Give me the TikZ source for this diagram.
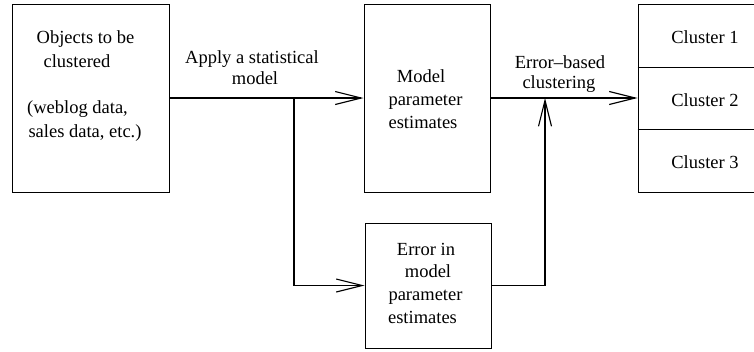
\documentclass[tikz,border=0pt]{standalone}
\usepackage{fontspec}
\setmainfont{Liberation Serif}
\usetikzlibrary{arrows.meta}
\begin{document}
\begin{tikzpicture}[x=1pt,y=-1pt,
  box/.style={draw, line width=1pt, inner sep=0pt},
  conn/.style={line width=1.5pt},
  arr/.style={conn, -{Straight Barb[length=26pt,width=13pt,line width=1.1pt]}},
  txt/.style={font=\fontsize{18.5}{22}\selectfont, inner sep=0pt, anchor=base}]
\useasboundingbox (0,0) rectangle (754,351);
% boxes
\node[box, minimum width=157pt, minimum height=188pt] (obj) at (90.5,98) {};
\node[box, minimum width=126pt, minimum height=188pt] (model) at (427,98) {};
\node[box, minimum width=126pt, minimum height=125pt] (err) at (428,285.5) {};
\node[box, minimum width=124pt, minimum height=188pt] (clus) at (700,98) {};
\draw[line width=1pt] (clus.west |- 0,67) -- (clus.east |- 0,67);
\draw[line width=1pt] (clus.west |- 0,129) -- (clus.east |- 0,129);
% texts in object box
\node[txt] (o1) at (85.5,43) {Objects to be};
\node[txt] (o2) at (77,67) {clustered};
\node[txt] (o3) at (77.5,113) {(weblog data,};
\node[txt] (o4) at (85,137) {sales data, etc.)};
% model box
\node[txt] (m1) at (421,82) {Model};
\node[txt] (m2) at (425.5,105) {parameter};
\node[txt] (m3) at (423,128) {estimates};
% error box
\node[txt] (e1) at (426,255) {Error in};
\node[txt] (e2) at (428,277) {model};
\node[txt] (e3) at (425.5,300) {parameter};
\node[txt] (e4) at (422.5,323) {estimates};
% clusters
\node[txt] (c1) at (705,43) {Cluster 1};
\node[txt] (c2) at (705,106) {Cluster 2};
\node[txt] (c3) at (705,168) {Cluster 3};
% labels
\node[txt] (l1) at (252,63) {Apply a statistical};
\node[txt] (l2) at (255,84) {model};
\node[txt] (l3) at (560,68) {Error--based};
\node[txt] (l4) at (559,88) {clustering};
% connectors
\coordinate (br) at (294,98);
\coordinate (up) at (545,98);
\draw[arr] (obj.east) -- (model.west);
\draw[arr] (br) |- (err.west);
\draw[arr] (err.east) -| (up);
\draw[arr] (model.east) -- (clus.west);
\end{tikzpicture}
\end{document}
